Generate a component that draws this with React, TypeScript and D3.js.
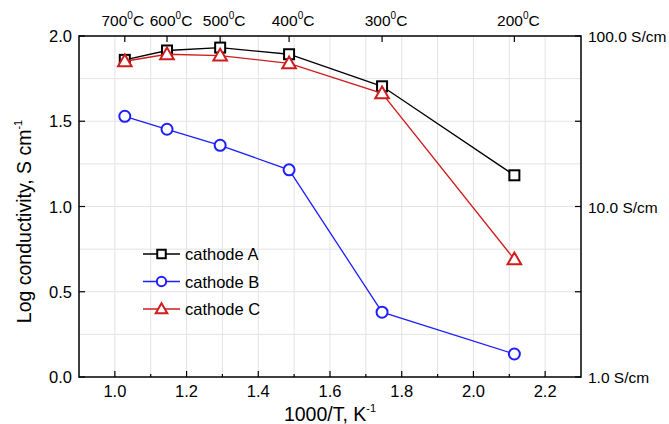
import React, { useRef, useEffect } from 'react';
import * as d3 from 'd3';

// temperatures (°C) for the top axis and the x positions of the samples
const temps = [700, 600, 500, 400, 300, 200];
const invT = temps.map(t => 1000 / (t + 273));

const cathodeA = [1.86, 1.915, 1.932, 1.893, 1.705, 1.183];
const cathodeB = [1.529, 1.453, 1.359, 1.215, 0.38, 0.135];
const cathodeC = [1.852, 1.893, 1.885, 1.84, 1.664, 0.69];

const xTicks = [1.0, 1.2, 1.4, 1.6, 1.8, 2.0, 2.2];
const yTicks = [0, 0.5, 1.0, 1.5, 2.0];
const rightLabels = [
  { v: 2, label: '100.0 S/cm' },
  { v: 1, label: '10.0 S/cm' },
  { v: 0, label: '1.0 S/cm' },
];

const seriesList = [
  { name: 'cathode A', values: cathodeA, color: '#000000', marker: 'square' },
  { name: 'cathode B', values: cathodeB, color: '#1f1fff', marker: 'circle' },
  { name: 'cathode C', values: cathodeC, color: '#d01c1c', marker: 'triangle' },
];

const App = () => {
  const svgRef = useRef(null);

  useEffect(() => {
    const W = 669, H = 424;
    const left = 79, right = 581, top = 36, bottom = 377;
    const font = 'Liberation Sans, Arial, sans-serif';

    const svg = d3.select(svgRef.current);
    svg.selectAll('*').remove();

    const x = d3.scaleLinear().domain([0.9, 2.3]).range([left, right]);
    const y = d3.scaleLinear().domain([0, 2]).range([bottom, top]);

    // grid
    const grid = svg.append('g').attr('stroke', '#e3e3e3').attr('stroke-width', 1);
    d3.range(1.0, 2.3, 0.1).forEach(v => {
      grid.append('line').attr('x1', x(v)).attr('x2', x(v)).attr('y1', top).attr('y2', bottom);
    });
    d3.range(0.25, 2, 0.25).forEach(v => {
      grid.append('line').attr('x1', left).attr('x2', right).attr('y1', y(v)).attr('y2', y(v));
    });

    // frame
    svg.append('rect')
      .attr('x', left).attr('y', top)
      .attr('width', right - left).attr('height', bottom - top)
      .attr('fill', 'none').attr('stroke', '#000').attr('stroke-width', 1.5);

    const ticks = svg.append('g').attr('stroke', '#000').attr('stroke-width', 1.2);
    // bottom ticks, major + minor
    d3.range(1.0, 2.3, 0.1).forEach((v, i) => {
      const len = i % 2 === 0 ? 6 : 3;
      ticks.append('line').attr('x1', x(v)).attr('x2', x(v)).attr('y1', bottom).attr('y2', bottom - len);
    });
    // left and right ticks
    yTicks.forEach(v => {
      ticks.append('line').attr('x1', left).attr('x2', left + 6).attr('y1', y(v)).attr('y2', y(v));
      ticks.append('line').attr('x1', right).attr('x2', right - 6).attr('y1', y(v)).attr('y2', y(v));
    });
    // top ticks at temperatures
    invT.forEach(v => {
      ticks.append('line').attr('x1', x(v)).attr('x2', x(v)).attr('y1', top).attr('y2', top + 6);
    });

    // bottom tick labels
    svg.append('g').selectAll('text')
      .data(xTicks)
      .enter().append('text')
      .attr('x', d => x(d))
      .attr('y', bottom + 20)
      .attr('text-anchor', 'middle')
      .style('font-family', font).style('font-size', '16.5px')
      .text(d => d.toFixed(1));

    // left tick labels
    svg.append('g').selectAll('text')
      .data(yTicks)
      .enter().append('text')
      .attr('x', left - 7)
      .attr('y', d => y(d) + 6)
      .attr('text-anchor', 'end')
      .style('font-family', font).style('font-size', '16.5px')
      .text(d => d.toFixed(1));

    // right labels
    svg.append('g').selectAll('text')
      .data(rightLabels)
      .enter().append('text')
      .attr('x', right + 7)
      .attr('y', d => y(d.v) + 6)
      .style('font-family', font).style('font-size', '15.5px')
      .text(d => d.label);

    // top temperature labels (first one nudged left so it doesn't run into the next)
    const topLabels = svg.append('g');
    temps.forEach((t, i) => {
      const txt = topLabels.append('text')
        .attr('x', x(invT[i]) + (i === 0 ? -2 : 4))
        .attr('y', 26)
        .attr('text-anchor', 'middle')
        .style('font-family', font).style('font-size', '15.5px');
      txt.append('tspan').text(t);
      txt.append('tspan').attr('dy', -7).style('font-size', '10px').text('0');
      txt.append('tspan').attr('dy', 7).text('C');
    });

    // axis titles
    const xt = svg.append('text')
      .attr('x', (left + right) / 2)
      .attr('y', 421)
      .attr('text-anchor', 'middle')
      .style('font-family', font).style('font-size', '19.5px');
    xt.append('tspan').text('1000/T, K');
    xt.append('tspan').attr('dy', -9).style('font-size', '11px').text('-1');

    const yt = svg.append('text')
      .attr('transform', `translate(31,${(top + bottom) / 2 + 15}) rotate(-90)`)
      .attr('text-anchor', 'middle')
      .style('font-family', font).style('font-size', '19.5px');
    yt.append('tspan').text('Log conductivity, S cm');
    yt.append('tspan').attr('dy', -9).style('font-size', '11px').text('-1');

    const drawMarker = (g, marker, cx, cy, color, k = 1) => {
      if (marker === 'square') {
        g.append('rect').attr('x', cx - 5 * k).attr('y', cy - 5 * k).attr('width', 10 * k).attr('height', 10 * k)
          .attr('fill', '#fff').attr('stroke', color).attr('stroke-width', 2);
      } else if (marker === 'circle') {
        g.append('circle').attr('cx', cx).attr('cy', cy).attr('r', 5.5 * k)
          .attr('fill', '#fff').attr('stroke', color).attr('stroke-width', 2);
      } else {
        const tri = d3.symbol().type(d3.symbolTriangle).size(80 * k * k);
        g.append('path').attr('d', tri()).attr('transform', `translate(${cx},${cy + 1})`)
          .attr('fill', '#fff').attr('stroke', color).attr('stroke-width', 2);
      }
    };

    const line = d3.line().x(d => x(d[0])).y(d => y(d[1]));

    seriesList.forEach(s => {
      const pts = invT.map((v, i) => [v, s.values[i]]);
      const g = svg.append('g');
      g.append('path').datum(pts).attr('d', line)
        .attr('fill', 'none').attr('stroke', s.color).attr('stroke-width', 1.3);
      pts.forEach(p => drawMarker(g, s.marker, x(p[0]), y(p[1]), s.color));
    });

    // legend
    const legend = svg.append('g');
    seriesList.forEach((s, i) => {
      const ly = 254 + i * 27.5;
      legend.append('line').attr('x1', 143).attr('x2', 180).attr('y1', ly).attr('y2', ly)
        .attr('stroke', s.color).attr('stroke-width', 1.3);
      drawMarker(legend, s.marker, 161.5, ly, s.color, 0.85);
      legend.append('text').attr('x', 185).attr('y', ly + 6)
        .style('font-family', font).style('font-size', '16.5px')
        .text(s.name);
    });

    svg.attr('width', W).attr('height', H);
  }, []);

  return (
    <svg ref={svgRef} style={{ position: 'absolute', left: 0, top: 0, background: '#fff' }}></svg>
  );
};

export default App;
